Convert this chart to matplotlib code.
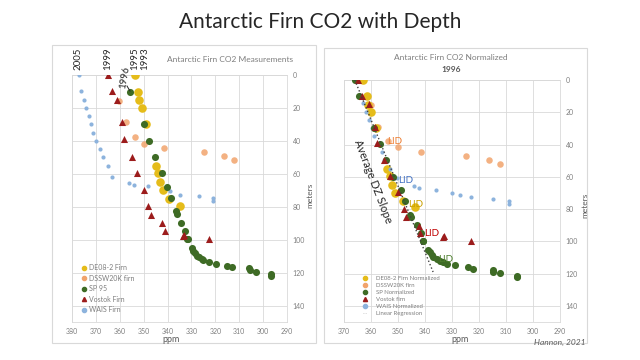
import matplotlib
matplotlib.use('Agg')
import matplotlib.pyplot as plt
from matplotlib.lines import Line2D
from matplotlib.patches import Rectangle

plt.rcParams['font.family'] = ['Lato', 'DejaVu Sans']

# ---------------- data: left panel (measurements) ----------------
wais_ppm = [377.1, 376.2, 375.1, 374.1, 373.0, 372.2, 371.1, 370.1, 368.3, 367.2,
            365.1, 363.1, 356.2, 354.1, 348.1, 339.0, 335.0, 326.9, 320.9, 320.9]
wais_depth = [0, 10, 15, 20, 25, 30, 35, 40, 45, 50, 55, 62, 65.5, 66.7, 67.6,
              70.7, 72.9, 73.7, 74.7, 76.7]

vostok_ppm = [364.9, 363.3, 361.0, 359.1, 358.1, 355.0, 352.9, 350.0, 348.1, 347.0,
              342.2, 341.0, 333.7, 333.1, 322.8]
vostok_depth = [0, 10, 15, 28.7, 38.8, 49.8, 59.6, 69.7, 79.7, 84.9, 89.8, 94.8,
                97.6, 97.0, 99.8]

dssw_ppm = [360.2, 357.4, 353.8, 349.9, 341.4, 324.9, 316.3, 312.2]
dssw_depth = [15.5, 28.7, 37.8, 41.6, 44.4, 46.8, 49.2, 51.6]

de08_ppm = [353.8, 352.4, 352.0, 350.7, 349.0, 345.0, 344.0, 343.2, 342.1, 339.2, 334.8]
de08_depth = [0, 10.2, 15.3, 20, 30, 55.2, 59.8, 64.9, 69.9, 75, 79.7]

sp_ppm = [355.6, 349.7, 347.9, 345.3, 342.3, 340.1, 338.6, 336.6, 335.9, 334.3, 332.7,
          332.0, 331.5, 329.9, 329.2, 328.5, 327.8, 326.7, 325.7, 325.0, 322.5, 319.7,
          315.0, 313.1, 305.8, 305.5, 303.1, 296.6, 296.6]
sp_depth = [10.2, 30, 40, 50, 59.8, 68.3, 74.9, 82.7, 84.3, 89.8, 94.8, 99.8, 99.8,
            105, 106.8, 108.4, 109.8, 110.6, 111.8, 112.6, 113.8, 114.5, 115.7, 116.7,
            117.5, 118.5, 119.5, 121, 121.9]

# ---------------- data: right panel (normalized to 1996) ----------------
n_wais_ppm = [365.5, 364.2, 362.8, 362.0, 360.7, 359.6, 358.8, 357.8, 355.8, 355.0,
              353.0, 350.5, 344.0, 342.1, 335.9, 330.0, 326.9, 323.0, 314.9, 308.9, 308.9]
n_wais_depth = [0, 10, 14.4, 19.6, 24.8, 29.9, 34.7, 39.5, 44.4, 49.5, 55, 60.9, 66,
                67, 68, 70.1, 71, 72.6, 73.8, 74.7, 76.7]

n_vostok_ppm = [364.9, 363.2, 360.7, 358.5, 357.7, 355.0, 353.0, 349.9, 347.8, 346.9,
                342.1, 341.7, 333.2, 333.0, 323.0]
n_vostok_depth = [0, 10, 15, 29, 38.8, 49.8, 59.8, 69.7, 79.8, 85, 90.2, 95.1, 97.2,
                  96.6, 100]

n_dssw_ppm = [360.0, 357.3, 353.6, 349.9, 341.5, 324.8, 316.3, 312.2]
n_dssw_depth = [15.5, 29, 37.7, 41.6, 44.4, 47, 49.5, 52]

n_de08_ppm = [362.8, 361.4, 361.0, 359.9, 358.0, 354.0, 353.0, 352.3, 351.1, 348.3, 343.7]
n_de08_depth = [0, 10.2, 15.3, 20, 30, 55.2, 59.8, 64.9, 69.9, 75.3, 79]

n_sp_ppm = [365.9, 364.4, 358.9, 356.7, 354.4, 351.7, 349.0, 347.3, 345.6, 345.0, 343.1,
            341.5, 340.9, 340.6, 338.8, 338.1, 337.5, 336.9, 335.7, 334.4, 333.4, 331.7,
            328.9, 324.2, 322.1, 314.9, 314.7, 312.2, 306.0, 306.0]
n_sp_depth = [0, 9.9, 30, 39.8, 49.5, 60, 68, 74.9, 83.5, 85, 89.7, 95, 100, 100, 105.2,
              106.9, 108.3, 109.7, 111, 112.4, 112.8, 114, 114.5, 115.9, 117, 118, 119,
              119.6, 121.3, 122]

reg_ppm = [366.0, 337.0]
reg_depth = [0, 119]

lid_labels = ['LID', 'LID', 'LID', 'LID', 'LID']
lid_ppm = [351.1, 347.0, 343.3, 337.5, 332.2]
lid_depth = [38.0, 62.3, 77.4, 95.1, 111.0]

year_labels = ['2005', '1999', '1995', '1993']

left_xticks = [380, 370, 360, 350, 340, 330, 320, 310, 300, 290]
right_xticks = [370, 360, 350, 340, 330, 320, 310, 300, 290]
yticks = [0, 20, 40, 60, 80, 100, 120, 140]

left_names = ['DE08-2 Firn', 'DSSW20K firn', 'SP 95', 'Vostok Firn', 'WAIS Firn']
right_names = ['DE08-2 Firn Normalized', 'DSSW20K firn', 'SP Normalized', 'Vostok firn',
               'WAIS Normalized', 'Linear Regression']

# ---------------- styles ----------------
C_DE08 = '#E5BC1A'
C_DSSW = '#F1A46C'
C_SP = '#3E6B25'
C_VOS = '#9C1C1C'
C_WAIS = '#8DB3DD'
C_LID = ['#ED7D31', '#4472C4', '#C9A000', '#C00000', '#4E7F2E']
GRID = '#D9D9D9'
TXT = '#7F7F7F'

W, H = 640, 360
fig = plt.figure(figsize=(6.4, 3.6), dpi=100)


def fx(px):
    return px / W


def fy(py):
    return 1 - py / H


# panel frames
for (x0, y0, x1, y1) in [(52, 45, 316, 343), (324, 48, 587, 343)]:
    fig.patches.append(Rectangle((fx(x0), fy(y1)), (x1 - x0) / W, (y1 - y0) / H,
                                 transform=fig.transFigure, fill=False,
                                 ec=GRID, lw=0.8))

axL = fig.add_axes([fx(72), fy(322), 215 / W, (322 - 75) / H])
axR = fig.add_axes([fx(344), fy(322), 216 / W, (322 - 80) / H])


def style(ax, xlim, xticks):
    ax.set_xlim(*xlim)
    ax.set_ylim(150, 0)
    ax.set_xticks(xticks)
    ax.set_yticks(yticks)
    ax.yaxis.tick_right()
    ax.grid(True, color=GRID, lw=0.6)
    ax.set_axisbelow(True)
    for s in ax.spines.values():
        s.set_color(GRID)
        s.set_linewidth(0.6)
    ax.tick_params(length=0, labelsize=5, labelcolor=TXT)
    ax.tick_params(axis='x', pad=4)
    ax.tick_params(axis='y', pad=4)


style(axL, (380, 290), left_xticks)
style(axR, (370, 290), right_xticks)


def draw(ax, wp, wd, vp, vd, dp, dd, ep, ed, sp, sd):
    ax.scatter(dp, dd, s=22, color=C_DSSW, alpha=0.85, lw=0, zorder=3)
    ax.scatter(ep, ed, s=38, color=C_DE08, lw=0, zorder=3)
    ax.scatter(wp, wd, s=9, color=C_WAIS, lw=0, zorder=4)
    ax.scatter(sp, sd, s=26, color=C_SP, lw=0, zorder=4)
    ax.scatter(vp, vd, s=26, marker='^', color=C_VOS, lw=0, zorder=5)


draw(axL, wais_ppm, wais_depth, vostok_ppm, vostok_depth, dssw_ppm, dssw_depth,
     de08_ppm, de08_depth, sp_ppm, sp_depth)
draw(axR, n_wais_ppm, n_wais_depth, n_vostok_ppm, n_vostok_depth, n_dssw_ppm,
     n_dssw_depth, n_de08_ppm, n_de08_depth, n_sp_ppm, n_sp_depth)

axR.plot(reg_ppm, reg_depth, ls=':', color='#404040', lw=1.0, zorder=6)

for lab, p, d, c in zip(lid_labels, lid_ppm, lid_depth, C_LID):
    axR.text(p, d, lab, color=c, fontsize=7, ha='center', va='center', zorder=7)

axR.text(359.3, 63, 'Average DZ Slope', rotation=-69, rotation_mode='anchor',
         fontsize=8, color='#262626', ha='center', va='center', zorder=7)

# legends
def handles(with_reg):
    h = [Line2D([], [], ls='', marker='o', ms=3, color=C_DE08),
         Line2D([], [], ls='', marker='o', ms=3, color=C_DSSW),
         Line2D([], [], ls='', marker='o', ms=3, color=C_SP),
         Line2D([], [], ls='', marker='^', ms=3, color=C_VOS),
         Line2D([], [], ls='', marker='o', ms=3, color=C_WAIS)]
    if with_reg:
        h.append(Line2D([], [], ls=':', lw=0.6, color='#BFBFBF'))
    return h


lgL = axL.legend(handles(False), left_names, loc='upper left',
                 bbox_to_anchor=(0.043, 0.233), frameon=False, fontsize=5,
                 labelspacing=0.49, handlelength=0.8, handletextpad=0.3,
                 borderpad=0, borderaxespad=0)
for t in lgL.get_texts():
    t.set_color(TXT)
lgR = axR.legend(handles(True), right_names, loc='upper left',
                 bbox_to_anchor=(0.086, 0.19), frameon=False, fontsize=4.3,
                 labelspacing=0.3, handlelength=0.8, handletextpad=1.4,
                 borderpad=0, borderaxespad=0)
for t in lgR.get_texts():
    t.set_color(TXT)

# titles and labels
fig.text(0.5, fy(22), 'Antarctic Firn CO2 with Depth', ha='center', va='center',
         fontsize=15, color='#262626')
fig.text(fx(230), fy(60), 'Antarctic Firn CO2 Measurements', ha='center',
         va='center', fontsize=6, color=TXT)
fig.text(fx(451), fy(58), 'Antarctic Firn CO2 Normalized', ha='center',
         va='center', fontsize=6, color=TXT)
fig.text(fx(451), fy(69), '1996', ha='center', va='center', fontsize=6,
         color='#595959', fontweight='bold')
fig.text(fx(171), fy(339), 'ppm', ha='center', va='center', fontsize=6.5, color='#595959')
fig.text(fx(460), fy(339), 'ppm', ha='center', va='center', fontsize=6.5, color='#595959')
fig.text(fx(310), fy(195), 'meters', ha='center', va='center', fontsize=6,
         color='#595959', rotation=90)
fig.text(fx(585), fy(205), 'meters', ha='center', va='center', fontsize=6,
         color='#595959', rotation=90)
fig.text(fx(586), fy(342), 'Hannon, 2021', ha='right', va='center', fontsize=6,
         color='#595959', style='italic')

for lab, xp in zip(year_labels, [78, 108, 135, 145]):
    fig.text(fx(xp), fy(59), lab, ha='center', va='center', fontsize=7,
             color='#262626', rotation=90)
fig.text(fx(125), fy(77), '1996', ha='center', va='center', fontsize=7,
         color='#262626', rotation=80)
fig.add_artist(Line2D([fx(127), fx(130)], [fy(86), fy(91)], color='#262626', lw=0.7,
                      transform=fig.transFigure))

fig.savefig('out.png', dpi=100)
